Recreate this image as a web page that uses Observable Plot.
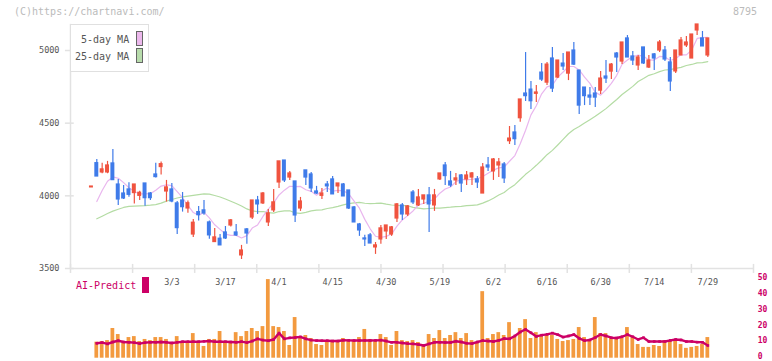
<!DOCTYPE html>
<html><head><meta charset="utf-8">
<script src="https://cdn.jsdelivr.net/npm/d3@7"></script>
<script src="https://cdn.jsdelivr.net/npm/@observablehq/plot@0.6"></script>
<style>
body{margin:0;background:#fff;}
#wrap{position:relative;width:772px;height:361px;overflow:hidden;font-family:"DejaVu Sans Mono",monospace;}
#wrap svg{position:absolute;left:0;top:0;}
.lbl{position:absolute;white-space:nowrap;line-height:1;}
</style></head><body><div id="wrap"></div>
<script>
// ---- data (first entry is the lone marker before the series) ----
const openP = [4058,4225,4161,4161,4223,4078,4016,4044,4019,4000,4085,4016,4147,4198,4030,4044,3948,3968,3913,3734,3888,3900,3817,3682,3705,3748,3796,3748,3590,3769,3851,3968,3948,3817,3900,4092,4243,4126,4099,3913,4175,4147,4030,4000,4078,4113,4065,4078,4037,3920,3803,3707,3728,3645,3700,3755,3734,3844,3934,3872,4023,3934,3975,4003,3934,4113,4209,4099,4106,4140,4113,4126,4113,4016,4209,4168,4209,4216,4376,4436,4534,4704,4731,4702,4848,4779,4945,4814,4910,4841,5000,4862,4745,4690,4704,4724,4821,4855,4979,4924,5083,4959,4897,5021,4883,4973,5000,5000,4918,4856,4966,5035,4945,5138,5083,4966];
const highP = [4064,4250,4225,4237,4319,4113,4071,4090,4078,4032,4085,4023,4225,4232,4106,4085,3961,4023,3964,3838,3927,3968,3826,3776,3734,3789,3838,3803,3659,3776,3968,3996,4023,3906,4044,4237,4243,4168,4099,3989,4175,4161,4065,4051,4099,4133,4085,4085,4037,3927,3810,3728,3741,3679,3796,3796,3789,3948,3948,3934,4037,4044,4003,4058,4044,4154,4230,4168,4154,4147,4168,4161,4133,4223,4264,4257,4257,4230,4477,4484,4663,4986,4786,4759,4910,4917,5020,4931,4979,4986,5055,4862,4745,4745,4745,4855,4931,4910,4986,5055,5103,4993,4966,5021,4966,4980,5069,5028,4952,5000,5090,5097,5110,5179,5131,5083];
const lowP = [4058,4133,4152,4152,4108,3934,3975,3991,3943,3968,3929,3968,4122,4143,3957,3952,3734,3888,3881,3714,3826,3867,3702,3682,3659,3700,3785,3721,3562,3666,3838,3872,3941,3789,3886,4051,4092,4106,3817,3893,4071,4023,4010,3975,4023,4010,4016,3996,3906,3817,3721,3652,3672,3597,3666,3700,3721,3817,3831,3858,3941,3927,3941,3748,3893,4106,4071,4058,4071,4023,4071,4071,4051,4016,4168,4106,4126,4085,4353,4346,4507,4649,4594,4642,4786,4759,4711,4807,4862,4793,4896,4559,4621,4621,4608,4697,4773,4800,4849,4904,4952,4897,4863,4904,4876,4863,4986,4925,4718,4842,4966,5021,4945,5103,5028,4952];
const closeP = [4064,4133,4182,4209,4108,3975,3982,4007,4078,4021,3984,3984,4129,4218,4058,3961,3778,3922,3949,3815,3867,3879,3728,3714,3659,3707,3831,3728,3624,3741,3968,3941,4016,3879,3955,4237,4106,4154,3865,3961,4126,4051,4016,4016,4065,4010,4085,3996,3913,3817,3762,3700,3672,3659,3776,3796,3783,3941,3872,3927,3955,3989,4003,3941,4003,4154,4136,4071,4120,4085,4140,4154,4092,4195,4195,4250,4230,4120,4394,4390,4663,4686,4651,4711,4800,4903,4738,4931,4890,4986,4903,4621,4686,4676,4676,4807,4807,4903,4952,5055,4952,4931,4952,4911,4931,4945,5055,4938,4787,5000,5069,5055,5110,5179,5028,5083];
const ma5 = [null,3961,4037,4100,4130,4121,4091,4056,4030,4013,4014,4015,4039,4067,4075,4070,4029,3987,3934,3885,3866,3886,3848,3801,3769,3737,3728,3728,3710,3726,3778,3800,3858,3909,3952,4006,4039,4066,4063,4065,4042,4031,4004,4034,4055,4032,4038,4034,4014,3964,3915,3838,3773,3722,3714,3721,3737,3791,3834,3864,3896,3937,3949,3963,3978,4018,4047,4061,4097,4113,4110,4114,4118,4133,4155,4177,4192,4198,4238,4277,4359,4451,4557,4620,4702,4750,4761,4817,4852,4890,4890,4866,4817,4774,4712,4693,4730,4774,4829,4905,4934,4959,4968,4960,4935,4934,4959,4956,4931,4945,4970,4970,5004,5083,5088,5091];
const ma25 = [null,3842,3860,3878,3895,3908,3920,3927,3929,3931,3933,3936,3940,3950,3964,3975,3985,3993,3998,4003,4008,4013,4012,4002,3992,3978,3963,3947,3930,3910,3896,3892,3892,3884,3881,3892,3896,3897,3883,3879,3886,3897,3901,3903,3913,3919,3927,3938,3946,3952,3955,3949,3947,3948,3950,3943,3937,3934,3933,3932,3921,3916,3910,3913,3915,3916,3919,3922,3926,3927,3932,3935,3938,3950,3965,3984,4006,4023,4053,4077,4112,4148,4177,4210,4245,4283,4313,4350,4388,4427,4457,4477,4501,4524,4547,4574,4600,4632,4663,4697,4725,4753,4787,4807,4829,4840,4855,4866,4869,4877,4884,4897,4904,4915,4917,4924];
const volume = [null,10.1,10.5,11.1,18.7,14.9,10.5,13.0,13.6,10.5,11.8,11.1,13.0,13.0,11.8,9.9,13.6,10.5,10.5,15.5,10.5,7.4,11.8,11.8,16.8,10.5,10.5,16.1,13.6,16.8,18.7,16.8,19.9,49.5,19.9,19.3,16.8,8.0,25.6,13.6,14.3,12.4,8.6,8.0,10.5,10.5,10.5,12.4,10.5,11.1,13.0,18.1,11.8,10.5,14.9,13.0,8.0,16.8,11.1,10.5,11.1,9.9,8.0,14.9,12.4,17.4,12.4,14.3,16.1,12.4,15.5,11.1,9.9,41.9,12.4,14.9,16.1,14.3,22.4,13.6,18.7,24.3,12.4,16.1,13.6,14.3,14.3,11.8,10.5,11.1,11.8,19.3,13.0,11.1,25.6,15.5,15.5,13.0,12.4,12.4,19.3,13.6,8.6,6.8,6.8,8.0,7.4,11.1,10.5,11.1,8.6,6.2,6.8,7.4,8.6,13.0];
const aiPredict = [null,9.4,9.8,9.0,10.2,11.0,10.2,10.0,9.8,9.2,9.8,10.0,10.0,10.2,10.0,9.6,10.0,10.4,10.4,10.4,10.4,10.6,10.8,10.4,10.4,10.4,10.2,10.0,10.4,9.8,10.8,12.2,11.4,11.0,11.8,15.8,12.2,12.8,13.0,13.4,12.2,11.4,11.1,11.0,11.0,10.8,10.8,11.3,11.2,11.1,11.1,11.2,11.1,11.2,11.4,10.8,10.0,10.0,9.6,9.2,9.0,8.6,8.0,9.0,10.0,10.0,9.9,9.9,10.7,10.2,9.4,9.2,10.2,11.1,10.8,10.5,11.2,12.4,12.2,14.0,16.5,18.1,16.0,13.7,14.5,15.0,15.8,14.8,13.3,14.0,14.9,12.5,11.1,11.5,13.0,14.9,14.0,12.9,12.7,13.5,14.9,13.5,11.8,12.9,10.5,10.5,10.5,10.5,11.2,11.8,11.5,10.5,10.5,10.1,10.0,8.0];
const dateTicks = ["3/3","3/17","4/1","4/15","4/30","5/19","6/2","6/16","6/30","7/14","7/29"];
const dateTickIndex = [14,24,34,44,54,64,74,84,94,104,114];
const priceTicks = [3500,4000,4500,5000];
const volTicks = [0,10,20,30,40,50];

// ---- layout / styles ----
const W = 772, H = 361;
const RED = "#f0533f", BLUE = "#3f7be9";
const xMin = -4.907, xMax = 122.52;
const xScale = {type:"linear", domain:[xMin, xMax], range:[70, 753], axis:null};
const rows = openP.map((o,j)=>({x:j-1, open:o, high:highP[j], low:lowP[j], close:closeP[j],
  vol:volume[j], ai:aiPredict[j], ma5:ma5[j], ma25:ma25[j]}));
const col = d => d.close >= d.open ? RED : BLUE;
const gridTicks = d3.range(12).map(k => xMin + k*(xMax-xMin)/11);

const main = Plot.plot({
  width: W, height: H,
  style:{background:"transparent", fontFamily:"DejaVu Sans Mono, monospace"},
  x: xScale,
  y: {domain:[3500,5000], range:[268,50], axis:null},
  marks: [
    Plot.ruleX([xMin], {y1:3500, y2:5180, stroke:"#e2e2e2", strokeWidth:1.5}),
    Plot.ruleY([3500], {x1:xMin, x2:xMax, stroke:"#e2e2e2", strokeWidth:1.5}),
    Plot.ruleX(gridTicks, {x:d=>d, y1:3466, y2:3528, stroke:"#e2e2e2", strokeWidth:1.5}),
    Plot.ruleY(priceTicks, {y:d=>d, x1:xMin-0.95, x2:xMin+0.7, stroke:"#e2e2e2", strokeWidth:1.5}),
    Plot.text(priceTicks, {x:xMin, y:d=>d, text:d=>String(d), textAnchor:"end", dx:-11, fontSize:8.5, fill:"#555"}),
    Plot.line(rows.filter(d=>d.ma25!=null), {x:"x", y:"ma25", stroke:"#b4dca4", strokeWidth:1.2}),
    Plot.line(rows.filter(d=>d.ma5!=null), {x:"x", y:"ma5", stroke:"#e9b6ee", strokeWidth:1.2}),
    Plot.ruleX(rows, {x:"x", y1:"low", y2:"high", stroke:col, strokeWidth:1.2}),
    Plot.rect(rows, {x1:d=>d.x-0.37, x2:d=>d.x+0.37, y1:"open", y2:"close", fill:col, insetTop:-0.6, insetBottom:-0.6})
  ]
});

const vol = Plot.plot({
  width: W, height: H,
  style:{background:"transparent", fontFamily:"DejaVu Sans Mono, monospace"},
  x: xScale,
  y: {domain:[0,50], range:[357.7,278.3], axis:null},
  marks: [
    Plot.rect(rows.filter(d=>d.vol!=null), {x1:d=>d.x-0.35, x2:d=>d.x+0.35, y1:0, y2:"vol", fill:"#f39a3f"}),
    Plot.line(rows.filter(d=>d.ai!=null), {x:"x", y:"ai", stroke:"#cc0066", strokeWidth:2.4}),
    Plot.dot(rows.filter(d=>d.ai!=null), {x:"x", y:"ai", symbol:"square", r:1.5, fill:"#cc0066"}),
    Plot.text(dateTicks, {x:(d,i)=>dateTickIndex[i], y:47.6, text:d=>d, fontSize:8.5, fill:"#555"}),
    Plot.text(volTicks, {x:123.3, y:d=>d, text:d=>String(d), textAnchor:"start", dy:-1.5, fontSize:8, fontWeight:"bold", fill:"#cc0066"})
  ]
});

const wrap = document.getElementById("wrap");
wrap.appendChild(main);
wrap.appendChild(vol);

function label(text, css){ const e=document.createElement("div"); e.className="lbl"; e.textContent=text; Object.assign(e.style, css); wrap.appendChild(e); return e; }
label("(C)https://chartnavi.com/", {left:"14px", top:"7px", fontSize:"10px", color:"#bbb"});
label("8795", {left:"733px", top:"7px", fontSize:"10px", color:"#bbb"});
// legend box
const box = document.createElement("div");
Object.assign(box.style, {position:"absolute", left:"70px", top:"24px", width:"77px", height:"46px", border:"1px solid #e0e0e0", background:"#fff"});
wrap.appendChild(box);
label("5-day MA", {left:"81px", top:"35px", fontSize:"10px", color:"#555"});
label("25-day MA", {left:"75px", top:"52px", fontSize:"10px", color:"#555"});
const sw = (top, color) => { const e=document.createElement("div"); Object.assign(e.style,{position:"absolute", left:"136px", top:top+"px", width:"5px", height:"13px", border:"1px solid #666", background:color}); wrap.appendChild(e); };
sw(31, "#ecb8ec"); sw(48, "#b8dcac");
label("AI-Predict", {left:"76px", top:"281px", fontSize:"10px", color:"#cc0066"});
const ai = document.createElement("div");
Object.assign(ai.style, {position:"absolute", left:"142px", top:"277px", width:"7px", height:"16px", background:"#cc0066"});
wrap.appendChild(ai);
</script>
</body></html>
